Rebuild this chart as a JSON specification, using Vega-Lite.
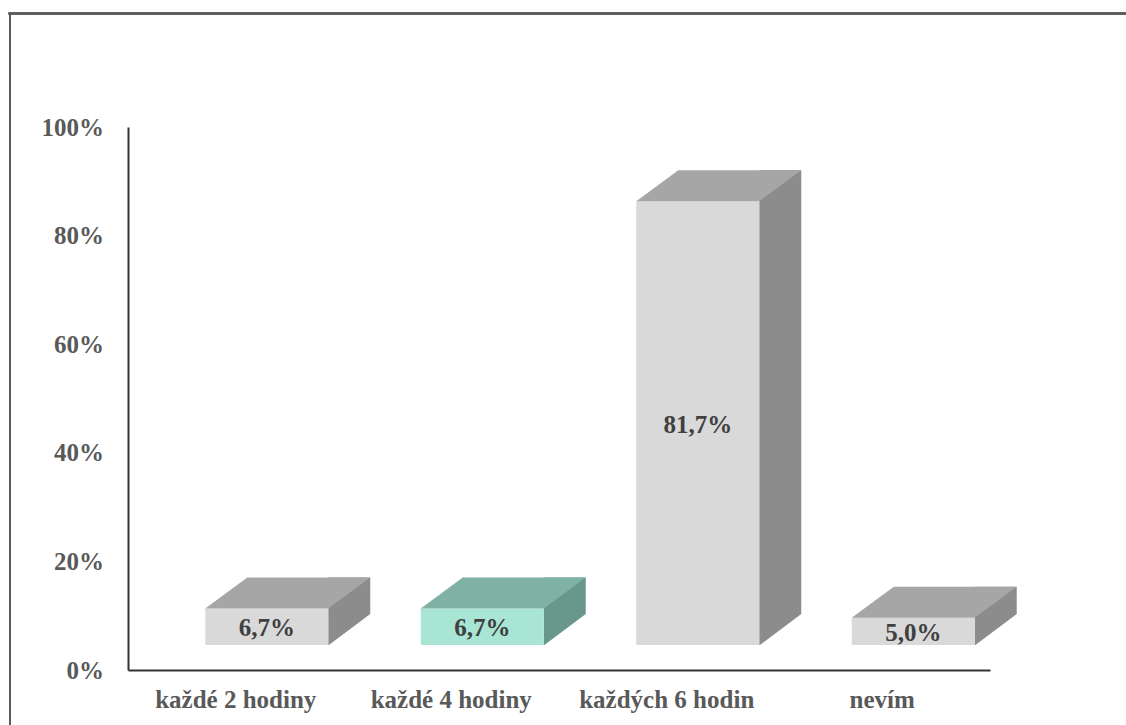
{
  "$schema": "https://vega.github.io/schema/vega-lite/v6.json",
  "width": 1116.5,
  "height": 711.5,
  "autosize": {"type": "none"},
  "padding": {"left": 9.5, "top": 13.5, "right": 0, "bottom": 0},
  "background": "white",
  "config": {
    "view": {"stroke": null},
    "locale": {"number": {"decimal": ",", "thousands": " ", "grouping": [3], "currency": ["", " Kč"]}},
    "axis": {
      "labelFont": "Liberation Serif",
      "labelFontWeight": "bold",
      "labelFontSize": 25,
      "labelColor": "#595959",
      "ticks": false,
      "tickSize": 0,
      "grid": false,
      "domainColor": "#333333",
      "domainWidth": 2
    }
  },
  "data": {
    "values": [
      {"category": "každé 2 hodiny", "value": 0.067},
      {"category": "každé 4 hodiny", "value": 0.067},
      {"category": "každých 6 hodin", "value": 0.817},
      {"category": "nevím", "value": 0.05}
    ]
  },
  "layer": [
    {
      "encoding": {
        "x": {
          "field": "category",
          "type": "nominal",
          "sort": null,
          "scale": {"type": "band", "range": [118.5, 980.5], "paddingInner": 0, "paddingOuter": 0},
          "axis": {"title": null, "labelAngle": 0, "labelPadding": 17, "offset": -55, "labelBaseline": "top"}
        },
        "y": {
          "field": "value",
          "type": "quantitative",
          "scale": {"domain": [0, 1], "range": [656.5, 113.5], "nice": false},
          "axis": {"title": null, "orient": "left", "values": [0, 0.2, 0.4, 0.6, 0.8, 1], "format": ".0%", "labelPadding": 24.5, "offset": -118.5}
        }
      },
      "layer": [
        {
          "mark": {"type": "rule", "color": "#595959", "strokeWidth": 2, "strokeCap": "square"},
          "encoding": {"x": null, "y": {"datum": 1.20902, "type": "quantitative"}}
        },
        {
          "mark": {"type": "bar", "width": 42, "xOffset": 113.5, "yOffset": -56, "y2Offset": -25},
          "encoding": {
            "y2": {"datum": 0},
            "fill": {"condition": {"test": "datum.category === 'každé 4 hodiny'", "value": "#69978b"}, "value": "#8c8c8c"}
          }
        },
        {
          "mark": {"type": "point", "shape": "M 61.5 0.5 L 103.5 -31 L 105.5 -31 L 105.5 0.5 Z", "size": 4, "filled": true, "opacity": 1, "fill": "white", "strokeWidth": 0, "xOffset": 31, "yOffset": -25},
          "encoding": {"y": {"datum": 0, "type": "quantitative"}}
        },
        {
          "mark": {"type": "bar", "width": 123, "xOffset": 31, "yOffset": -25, "y2Offset": -25},
          "encoding": {
            "y2": {"datum": 0},
            "fill": {"condition": {"test": "datum.category === 'každé 4 hodiny'", "value": "#a8e5d5"}, "value": "#d9d9d9"}
          }
        },
        {
          "mark": {"type": "point", "shape": "M -61.5 0 L 61.5 0 L 103.5 -31 L -19.5 -31 Z", "size": 4, "filled": true, "opacity": 1, "strokeWidth": 0, "xOffset": 31, "yOffset": -25},
          "encoding": {
            "fill": {"condition": {"test": "datum.category === 'každé 4 hodiny'", "value": "#7fb2a4"}, "value": "#a6a6a6"}
          }
        }
      ]
    },
    {
      "mark": {"type": "text", "xOffset": 31, "yOffset": -23.5, "font": "Liberation Serif", "fontWeight": "bold", "fontSize": 25, "color": "#404040", "baseline": "middle"},
      "encoding": {
        "x": {"field": "category", "type": "nominal", "sort": null},
        "y": {
          "field": "value",
          "type": "quantitative",
          "scale": {"domain": [-0.20258, 2.41805], "nice": false, "zero": false},
          "axis": {"title": null, "orient": "left", "offset": 0, "labels": false, "ticks": false, "grid": false, "domain": true, "domainColor": "#595959", "domainWidth": 2, "domainCap": "square"}
        },
        "text": {"field": "value", "type": "quantitative", "format": ".1%"}
      }
    }
  ],
  "resolve": {"scale": {"y": "independent"}}
}
